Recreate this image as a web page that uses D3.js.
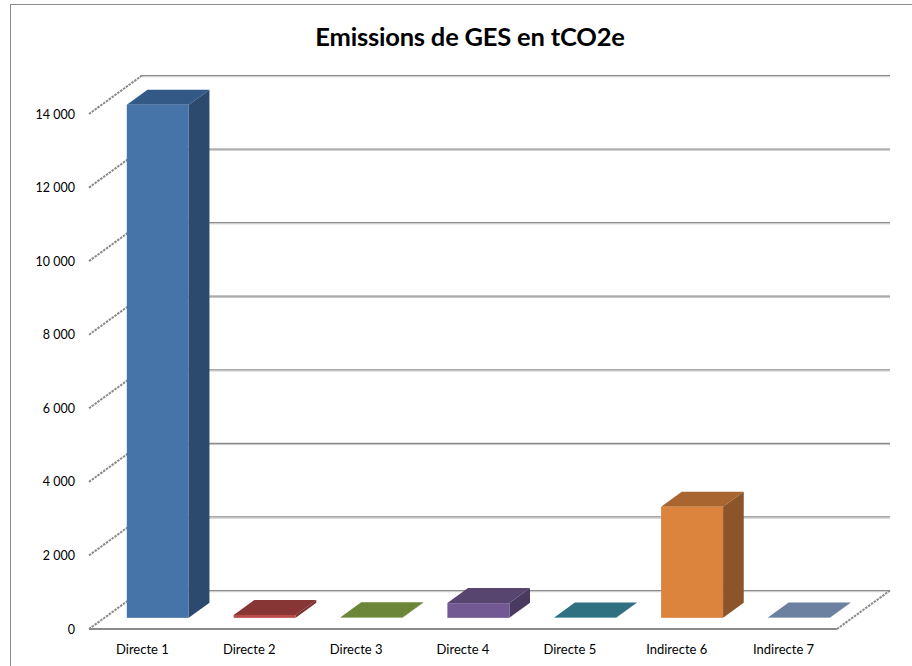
<!DOCTYPE html>
<html>
<head>
<meta charset="utf-8">
<script src="https://cdn.jsdelivr.net/npm/d3@7"></script>
<style>
  body { margin: 0; background: #fff; }
  text { font-family: Lato, "Open Sans", sans-serif; fill: #000; }
</style>
</head>
<body>
<div id="chart"></div>
<script>
// data
const categories = ["Directe 1", "Directe 2", "Directe 3", "Directe 4", "Directe 5", "Indirecte 6", "Indirecte 7"];
const values = [13950, 80, 15, 400, 10, 3020, 10];
const yTicks = [0, 2000, 4000, 6000, 8000, 10000, 12000, 14000];
const frontColors = ["#4673a8", "#b94b49", "#7d9a45", "#735994", "#3a8797", "#dc843d", "#7c8fae"];
const sideColors = ["#2c4a6e", "#7a2e2e", "#566b2c", "#4a3a60", "#245a65", "#8b5429", "#56657e"];
const topColors = ["#335a86", "#883535", "#6b8539", "#57446f", "#2f7180", "#a8652f", "#6c80a0"];

const W = 912, H = 666;
// oblique projection of the 3d box
const X0 = 89, Y0 = 629, DX = 53, DY = 38.5;
const Z0 = 0.29, Z1 = 0.68;

const svg = d3.select("#chart").append("svg")
    .attr("width", W).attr("height", H);

// outer border
svg.append("rect")
    .attr("x", 10.5).attr("y", 4.5)
    .attr("width", 920).attr("height", 680)
    .attr("fill", "none").attr("stroke", "#8a8a8a");

const x = d3.scaleBand().domain(categories).range([0, 748])
    .paddingInner(0.42).paddingOuter(0.21);
const xFull = d3.scaleBand().domain(categories).range([0, 748]);
const y = d3.scaleLinear().domain([0, 14000]).range([0, 515]);

function P(xv, h, z) {
    return [X0 + xv + z * DX, Y0 - h - z * DY];
}
function poly(pts) {
    return "M" + pts.map(p => p.join(",")).join("L") + "Z";
}

const fr = d3.formatLocale({ decimal: ",", thousands: "\u00a0", grouping: [3], currency: ["", " €"] });
const fmt = fr.format(",");

// back wall gridlines
const grid = svg.append("g");
yTicks.forEach(v => {
    const a = P(0, y(v), 1), b = P(748, y(v), 1);
    grid.append("line")
        .attr("x1", a[0]).attr("y1", a[1]).attr("x2", b[0]).attr("y2", b[1])
        .attr("stroke", "#8c8c8c").attr("stroke-width", 1.2);
    grid.append("line")
        .attr("x1", a[0]).attr("y1", a[1] + 1.2).attr("x2", b[0]).attr("y2", b[1] + 1.2)
        .attr("stroke", "#c4c4c4").attr("stroke-width", 1);
    // side wall lines
    const f = P(0, y(v), 0);
    grid.append("line")
        .attr("x1", f[0]).attr("y1", f[1]).attr("x2", a[0]).attr("y2", a[1])
        .attr("stroke", "#8a8a8a").attr("stroke-width", 2)
        .attr("stroke-dasharray", "2.5,1");
});

// floor right edge
const fr0 = P(748, 0, 0), fr1 = P(748, 0, 1);
grid.append("line")
    .attr("x1", fr0[0]).attr("y1", fr0[1]).attr("x2", fr1[0]).attr("y2", fr1[1])
    .attr("stroke", "#8a8a8a").attr("stroke-width", 2)
    .attr("stroke-dasharray", "2.5,1");

// bars
const bars = svg.append("g").selectAll("g").data(categories).join("g");
bars.each(function (c, i) {
    const g = d3.select(this);
    const x1 = x(c), x2 = x(c) + x.bandwidth(), h = y(values[i]);
    // top
    g.append("path")
        .attr("d", poly([P(x1, h, Z0), P(x2, h, Z0), P(x2, h, Z1), P(x1, h, Z1)]))
        .attr("fill", topColors[i]);
    // side
    g.append("path")
        .attr("d", poly([P(x2, 0, Z0), P(x2, h, Z0), P(x2, h, Z1), P(x2, 0, Z1)]))
        .attr("fill", sideColors[i]);
    // front
    const p = P(x1, h, Z0);
    g.append("rect")
        .attr("x", p[0]).attr("y", p[1])
        .attr("width", x.bandwidth()).attr("height", h)
        .attr("fill", frontColors[i]);
});

// floor front edge
const ff0 = P(0, 0, 0);
svg.append("line")
    .attr("x1", ff0[0]).attr("y1", ff0[1]).attr("x2", fr0[0]).attr("y2", fr0[1])
    .attr("stroke", "#8a8a8a").attr("stroke-width", 2.2);

// value labels
svg.append("g").selectAll("text").data(yTicks).join("text")
    .attr("x", 75).attr("y", v => Y0 - y(v) + 4.5)
    .attr("text-anchor", "end")
    .style("font-size", "12.5px")
    .text(v => fmt(v));

// category labels
svg.append("g").selectAll("text").data(categories).join("text")
    .attr("x", c => X0 + xFull(c) + xFull.bandwidth() / 2)
    .attr("y", 654)
    .attr("text-anchor", "middle")
    .style("font-size", "13px")
    .text(c => c);

svg.append("text")
    .attr("x", 470).attr("y", 46)
    .attr("text-anchor", "middle")
    .style("font-size", "25.5px").style("font-weight", "bold")
    .style("letter-spacing", "-0.2px")
    .text("Emissions de GES en tCO2e");
</script>
</body>
</html>
